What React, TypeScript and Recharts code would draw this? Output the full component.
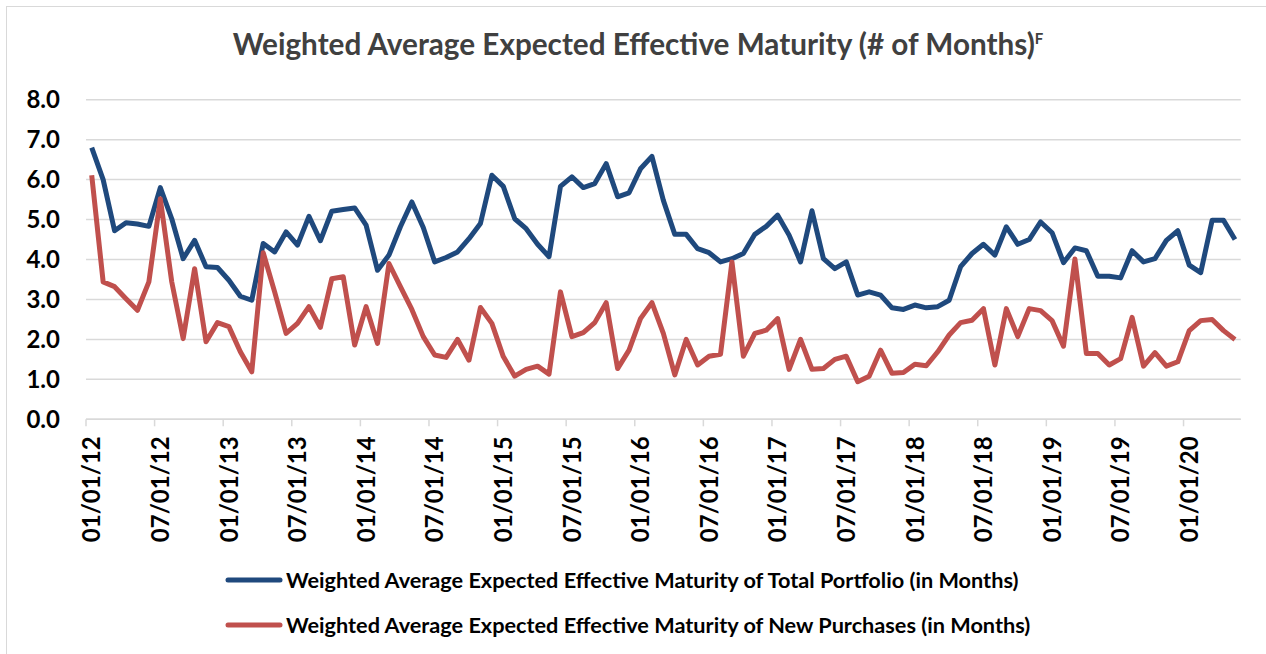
import React from 'react';
import { LineChart, Line, XAxis, YAxis, CartesianGrid, Legend } from 'recharts';

const FONT = 'Lato, "Open Sans", sans-serif';
const BLUE = '#1F497D';
const RED = '#C0504D';
const GRID = '#D9D9D9';

const W = 1266;
const H = 654;
const PLOT_LEFT = 86;
const PLOT_RIGHT = 1240.7;
const N_MONTHS = 101;
const HALF_BAND = (PLOT_RIGHT - PLOT_LEFT) / N_MONTHS / 2;
const TICK_SIZE = 6;
const TICK_MARGIN = 11;

// monthly, 01/01/12 .. 05/01/20
const TICK_LABELS = [
  '01/01/12', '07/01/12', '01/01/13', '07/01/13', '01/01/14', '07/01/14',
  '01/01/15', '07/01/15', '01/01/16', '07/01/16', '01/01/17', '07/01/17',
  '01/01/18', '07/01/18', '01/01/19', '07/01/19', '01/01/20',
];
const TICK_IDX = TICK_LABELS.map((_, i) => i * 6);

const TOTAL_PORTFOLIO = [
  6.8, 6.0, 4.72, 4.92, 4.89, 4.83, 5.8, 5.02, 4.02, 4.48,
  3.82, 3.8, 3.48, 3.08, 2.98, 4.4, 4.19, 4.69, 4.36, 5.08,
  4.47, 5.21, 5.25, 5.29, 4.86, 3.73, 4.11, 4.82, 5.44, 4.8,
  3.94, 4.05, 4.19, 4.52, 4.9, 6.11, 5.83, 5.02, 4.77, 4.38,
  4.07, 5.83, 6.07, 5.8, 5.9, 6.4, 5.57, 5.67, 6.27, 6.58,
  5.48, 4.63, 4.63, 4.27, 4.17, 3.94, 4.02, 4.15, 4.63, 4.83,
  5.11, 4.61, 3.94, 5.22, 4.02, 3.77, 3.94, 3.11, 3.19, 3.11,
  2.79, 2.75, 2.86, 2.79, 2.82, 2.98, 3.82, 4.15, 4.38, 4.11,
  4.82, 4.38, 4.5, 4.94, 4.67, 3.92, 4.29, 4.22, 3.58, 3.58,
  3.54, 4.22, 3.94, 4.02, 4.48, 4.72, 3.86, 3.67, 4.98, 4.98,
  4.5,
];

const NEW_PURCHASES = [
  6.11, 3.44, 3.32, 3.02, 2.73, 3.44, 5.52, 3.44, 2.02, 3.77,
  1.94, 2.42, 2.32, 1.69, 1.19, 4.17, 3.19, 2.15, 2.4, 2.82,
  2.3, 3.52, 3.57, 1.86, 2.82, 1.9, 3.9, 3.32, 2.75, 2.07,
  1.61, 1.55, 2.0, 1.48, 2.8, 2.4, 1.57, 1.08, 1.25, 1.33,
  1.13, 3.19, 2.07, 2.17, 2.42, 2.92, 1.27, 1.73, 2.52, 2.92,
  2.15, 1.11, 2.0, 1.36, 1.58, 1.63, 3.94, 1.58, 2.15, 2.23,
  2.52, 1.25, 2.0, 1.25, 1.27, 1.5, 1.58, 0.94, 1.08, 1.73,
  1.15, 1.17, 1.38, 1.34, 1.69, 2.11, 2.42, 2.48, 2.77, 1.36,
  2.77, 2.07, 2.77, 2.72, 2.47, 1.83, 4.01, 1.65, 1.65, 1.36,
  1.52, 2.55, 1.33, 1.67, 1.33, 1.44, 2.22, 2.47, 2.5, 2.22,
  2.0,
];

const Y_TICKS = [0, 1, 2, 3, 4, 5, 6, 7, 8];

const SERIES = [
  { key: 'total', name: 'Weighted Average Expected Effective Maturity of Total Portfolio (in Months)', color: BLUE },
  { key: 'purchases', name: 'Weighted Average Expected Effective Maturity of New Purchases (in Months)', color: RED },
];

const data = TOTAL_PORTFOLIO.map((v, i) => ({ idx: i, total: v, purchases: NEW_PURCHASES[i] }));

function DateTick({ x, y, payload }: { x?: number; y?: number; payload?: { value: number } }) {
  if (x == null || y == null || !payload) return null;
  const label = TICK_LABELS[TICK_IDX.indexOf(payload.value)];
  const axisY = y - TICK_MARGIN - TICK_SIZE;
  const tx = x - HALF_BAND;
  return (
    <g>
      <line x1={tx} y1={axisY} x2={tx} y2={axisY + TICK_SIZE + 1} stroke={GRID} strokeWidth={1.5} />
      <text
        x={x}
        y={y}
        dy="0.36em"
        textAnchor="end"
        transform={`rotate(-90, ${x}, ${y})`}
        fontFamily={FONT}
        fontWeight={700}
        fontSize={24}
        fill="#000"
      >
        {label}
      </text>
    </g>
  );
}

// legend drawn from SERIES so the order stays as in the original (blue first)
function LegendBlock() {
  return (
    <div style={{ fontFamily: FONT, fontWeight: 700, fontSize: 21.7, color: '#000' }}>
      {SERIES.map((s) => (
        <div key={s.key} style={{ display: 'flex', alignItems: 'center', height: 45, whiteSpace: 'nowrap' }}>
          <svg width={58} height={10} style={{ marginRight: 3 }}>
            <line x1={3} y1={5} x2={55} y2={5} stroke={s.color} strokeWidth={5} strokeLinecap="round" />
          </svg>
          <span>{s.name}</span>
        </div>
      ))}
    </div>
  );
}

export default function App() {
  return (
    <div style={{ position: 'absolute', left: 0, top: 0, width: W, height: H, background: '#fff', overflow: 'hidden' }}>
      <div
        style={{
          position: 'absolute',
          left: 6,
          top: 6,
          width: W,
          height: H,
          borderLeft: `1.5px solid ${GRID}`,
          borderTop: `1.5px solid ${GRID}`,
        }}
      />
      <div
        style={{
          position: 'absolute',
          left: 0,
          top: 26,
          width: 1276,
          textAlign: 'center',
          fontFamily: FONT,
          fontWeight: 700,
          fontSize: 29.7,
          color: '#404040',
          whiteSpace: 'nowrap',
        }}
      >
        Weighted Average Expected Effective Maturity (# of Months)<sup style={{ fontSize: 15 }}>F</sup>
      </div>
      <LineChart
        width={W}
        height={H}
        data={data}
        margin={{ top: 99.7, right: W - PLOT_RIGHT, left: 0, bottom: 0 }}
        style={{ position: 'absolute', left: 0, top: 0 }}
      >
        <CartesianGrid vertical={false} stroke={GRID} strokeWidth={1.5} />
        <XAxis
          dataKey="idx"
          type="number"
          domain={[-0.5, N_MONTHS - 0.5]}
          ticks={TICK_IDX}
          interval={0}
          height={H - 419.3}
          tickSize={TICK_SIZE}
          tickMargin={TICK_MARGIN}
          tickLine={false}
          axisLine={{ stroke: GRID, strokeWidth: 1.5 }}
          tick={<DateTick />}
        />
        <YAxis
          domain={[0, 8]}
          ticks={Y_TICKS}
          width={PLOT_LEFT}
          axisLine={false}
          tickLine={false}
          tickSize={6}
          tickMargin={20}
          tickFormatter={(v: number) => v.toFixed(1)}
          tick={{ fontFamily: FONT, fontWeight: 700, fontSize: 24, fill: '#000' }}
        />
        <Legend
          layout="vertical"
          align="center"
          verticalAlign="middle"
          wrapperStyle={{ left: 225, top: 557, width: 900 }}
          content={<LegendBlock />}
        />
        {SERIES.map((s) => (
          <Line
            key={s.key}
            type="linear"
            dataKey={s.key}
            name={s.name}
            stroke={s.color}
            strokeWidth={5}
            strokeLinejoin="round"
            dot={false}
            activeDot={false}
            isAnimationActive={false}
          />
        ))}
      </LineChart>
    </div>
  );
}
